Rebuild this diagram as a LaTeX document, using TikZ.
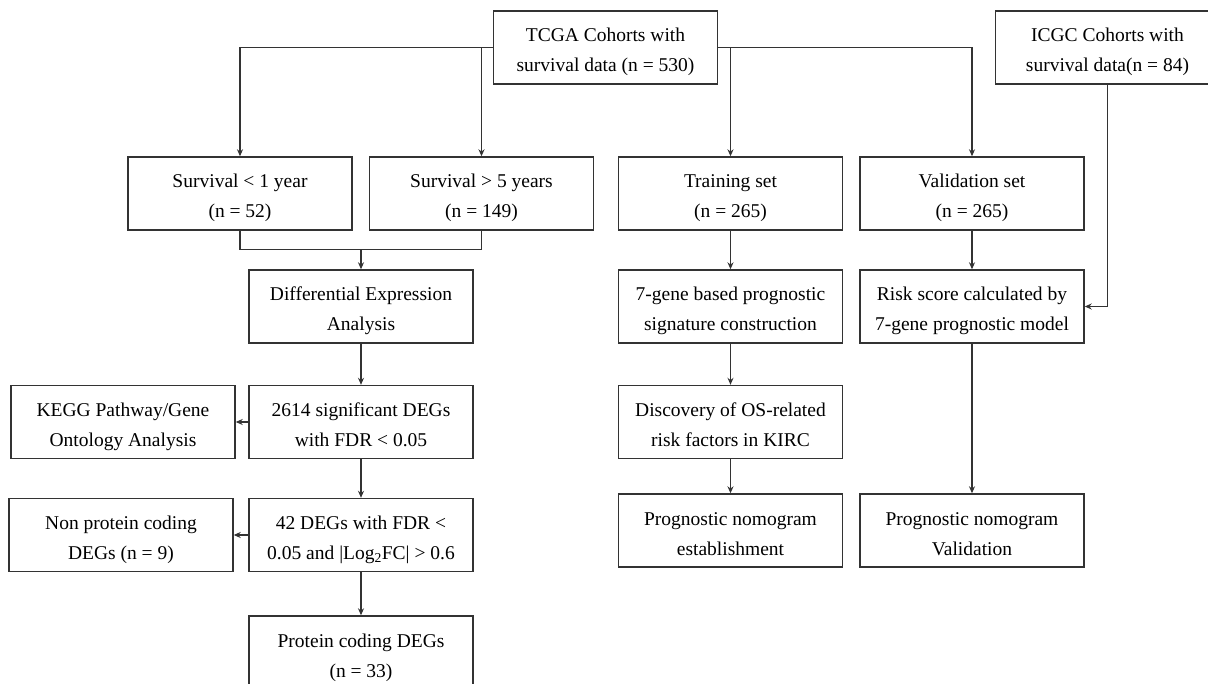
\documentclass[tikz,border=0pt]{standalone}
\usepackage{fontspec}
\setmainfont{Liberation Serif}
\usetikzlibrary{arrows.meta,calc,positioning}

\begin{document}
\begin{tikzpicture}[
        x=1pt, y=-1pt,
        every node/.style={color=black, font=\fontsize{19.5}{30}\selectfont},
        box/.style={draw=black!80, line width=1.4pt, minimum width=224pt, minimum height=73pt, inner sep=0pt, text height=49pt, text depth=0pt, align=center},
        link/.style={draw=black!80, line width=1.4pt},
        pile/.style={link, -{Stealth[length=7pt,width=6pt]}}
    ]
    \useasboundingbox (0,0) rectangle (1208,684);
    % top row
    \node[box] (tcga) at (605.5,47.5) {TCGA Cohorts with\\survival data (n = 530)};
    \node[box] (icgc) at (1107.5,47.5) {ICGC Cohorts with\\survival data(n = 84)};
    % split of the cohort
    \node[box] (surv1) at (240,193.5) {Survival < 1 year\\(n = 52)};
    \node[box] (surv5) at (481.5,193.5) {Survival > 5 years\\(n = 149)};
    \node[box] (train) at (730.5,193.5) {Training set\\(n = 265)};
    \node[box] (valid) at (972,193.5) {Validation set\\(n = 265)};
    % DEG branch
    \node[box] (dea) at (361,306.5) {Differential Expression\\Analysis};
    \node[box] (sig2614) at (361,422) {2614 significant DEGs\\with FDR < 0.05};
    \node[box] (kegg) at (123,422) {KEGG Pathway/Gene\\Ontology Analysis};
    \node[box] (deg42) at (361,535) {42 DEGs with FDR <\\0.05 and |Log\textsubscript{2}FC| > 0.6};
    \node[box] (nonpc) at (121,535) {Non protein coding\\DEGs (n = 9)};
    \node[box] (pcod) at (361,652.5) {Protein coding DEGs\\(n = 33)};
    % model branch
    \node[box] (sign) at (730.5,306.5) {7-gene based prognostic\\signature construction};
    \node[box] (risk) at (972,306.5) {Risk score calculated by\\7-gene prognostic model};
    \node[box] (disc) at (730.5,422) {Discovery of OS-related\\risk factors in KIRC};
    \node[box] (estab) at (730.5,530.5) {Prognostic nomogram\\establishment};
    \node[box] (pval) at (972,530.5) {Prognostic nomogram\\Validation};
    \coordinate (mrg) at ([yshift=20pt]dea.north);

    \draw[pile] (tcga.west) -| (surv1.north);
    \draw[pile] (tcga.west -| surv5.north) -- (surv5.north);
    \draw[pile] (tcga.east) -| (valid.north);
    \draw[pile] (tcga.east -| train.north) -- (train.north);
    \draw[link] (surv1.south) |- (mrg) -| (surv5.south);
    \draw[pile] (mrg) -- (dea.north);
    \draw[pile] (dea) -- (sig2614);
    \draw[pile] (sig2614) -- (kegg);
    \draw[pile] (sig2614) -- (deg42);
    \draw[pile] (deg42) -- (nonpc);
    \draw[pile] (deg42) -- (pcod);
    \draw[pile] (train) -- (sign);
    \draw[pile] (sign) -- (disc);
    \draw[pile] (disc) -- (estab);
    \draw[pile] (valid) -- (risk);
    \draw[pile] (risk) -- (pval);
    \draw[pile] (icgc.south) |- (risk.east);
\end{tikzpicture}
\end{document}
